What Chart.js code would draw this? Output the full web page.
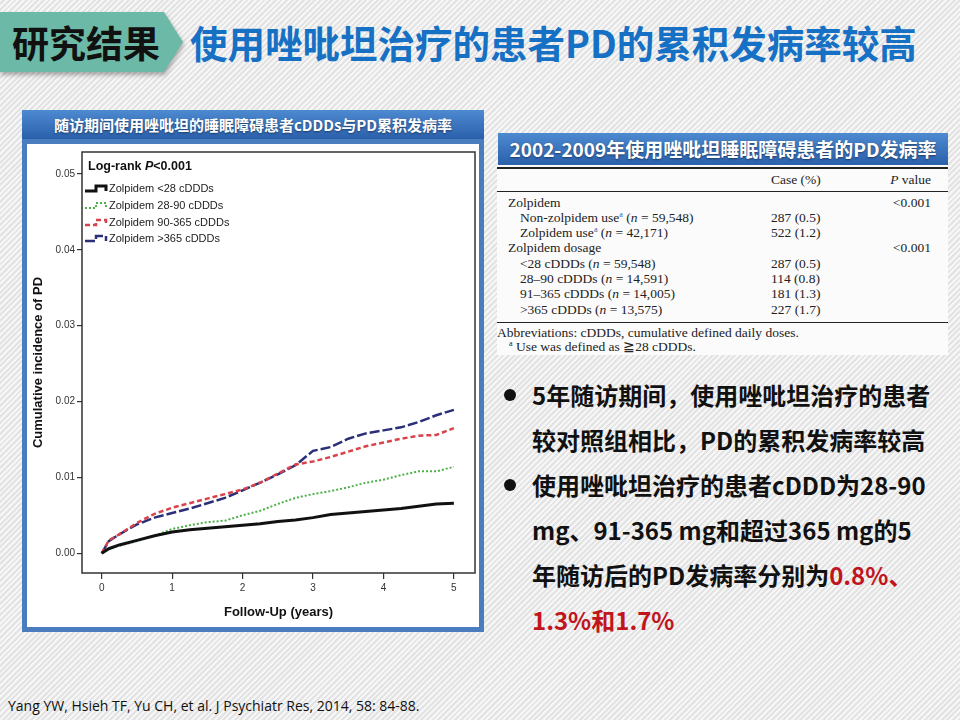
<!DOCTYPE html>
<html>
<head>
<meta charset="utf-8">
<script src="https://cdn.jsdelivr.net/npm/chart.js@4.4.1/dist/chart.umd.min.js"></script>
<style>
  body { margin: 0; }
  #slide {
    position: relative; width: 960px; height: 720px; overflow: hidden;
    background: repeating-linear-gradient(135deg, #f6f6f6 0 2px, #e3e3e3 2px 4px);
    font-family: "Noto Sans CJK SC", "Noto Sans", sans-serif;
  }
  .abs { position: absolute; }
  #tagWrap { left: 0; top: 12px; width: 186px; height: 64px; filter: drop-shadow(1px 3px 2px rgba(0,0,0,0.3)); }
  #tag {
    left: 0; top: 0; width: 183px; height: 60px; background: #6bb9a6;
    clip-path: polygon(0 0, 164px 0, 183px 50%, 164px 100%, 0 100%);
  }
  #tagText { left: 12px; top: 12px; height: 60px; line-height: 60px; font-size: 37px; font-weight: 700; color: #111; }
  #title { left: 190px; top: 12px; height: 60px; line-height: 60px; font-size: 37.5px; font-weight: 700; color: #1670c4; white-space: nowrap; }
  .bar {
    background: linear-gradient(#4d8ad0, #2b60ab); color: #fff; font-weight: 700;
    text-align: center; white-space: nowrap; text-shadow: 0 1px 2px rgba(0,0,0,0.45);
  }
  #leftBar { left: 22px; top: 110px; width: 462px; height: 29px; line-height: 29px; font-size: 15px; }
  #chartBox { left: 22px; top: 139px; width: 452px; height: 483px; border: 5px solid #4a7dbd; background: #fff; }
  #chartBox canvas { display: block; }
  #tableBar { left: 498px; top: 133px; width: 450px; height: 32px; line-height: 32px; font-size: 19px; }
  #tbl { left: 497px; top: 165px; width: 451px; height: 190px; background: #fbfbfb;
         font-family: "Liberation Serif", "DejaVu Serif", serif; font-size: 13.5px; color: #222; }
  #tbl .row { position: absolute; left: 0; width: 451px; height: 16px; line-height: 16px; white-space: nowrap; }
  #tbl .c1 { position: absolute; left: 11px; }
  #tbl .c1.in { left: 23px; }
  #tbl .c2 { position: absolute; left: 274px; }
  #tbl .c3 { position: absolute; right: 17px; }
  #tbl .rule { position: absolute; left: 0; width: 451px; background: #222; }
  #tbl sup { font-size: 8px; line-height: 0; color: #3a5fa8; }
  #bullets { left: 532px; top: 372px; font-size: 24px; font-weight: 700; color: #111; line-height: 45px; white-space: nowrap; }
  .dot { width: 12px; height: 12px; border-radius: 50%; background: #111; }
  .red { color: #c0151d; }
  #ref { left: 8px; top: 696px; font-family: "Open Sans", sans-serif; font-size: 14px; color: #111; white-space: nowrap; }
</style>
</head>
<body>
<div id="slide">
  <div id="tagWrap" class="abs"><div id="tag" class="abs"></div></div>
  <div id="tagText" class="abs">研究结果</div>
  <div id="title" class="abs">使用唑吡坦治疗的患者PD的累积发病率较高</div>

  <div id="leftBar" class="abs bar">随访期间使用唑吡坦的睡眠障碍患者cDDDs与PD累积发病率</div>
  <div id="chartBox" class="abs"><canvas id="kmChart" width="452" height="483"></canvas></div>

  <div id="tableBar" class="abs bar">2002-2009年使用唑吡坦睡眠障碍患者的PD发病率</div>
  <div id="tbl" class="abs">
    <div class="rule" style="top:2px;height:2px"></div>
    <div class="row" style="top:7px"><span class="c2">Case (%)</span><span class="c3"><i>P</i> value</span></div>
    <div class="rule" style="top:26px;height:1px"></div>
    <div class="row" style="top:30px"><span class="c1">Zolpidem</span><span class="c3">&lt;0.001</span></div>
    <div class="row" style="top:45px"><span class="c1 in">Non-zolpidem use<sup>a</sup> (<i>n</i> = 59,548)</span><span class="c2">287 (0.5)</span></div>
    <div class="row" style="top:60px"><span class="c1 in">Zolpidem use<sup>a</sup> (<i>n</i> = 42,171)</span><span class="c2">522 (1.2)</span></div>
    <div class="row" style="top:75px"><span class="c1">Zolpidem dosage</span><span class="c3">&lt;0.001</span></div>
    <div class="row" style="top:91px"><span class="c1 in">&lt;28 cDDDs (<i>n</i> = 59,548)</span><span class="c2">287 (0.5)</span></div>
    <div class="row" style="top:106px"><span class="c1 in">28–90 cDDDs (<i>n</i> = 14,591)</span><span class="c2">114 (0.8)</span></div>
    <div class="row" style="top:121px"><span class="c1 in">91–365 cDDDs (<i>n</i> = 14,005)</span><span class="c2">181 (1.3)</span></div>
    <div class="row" style="top:137px"><span class="c1 in">&gt;365 cDDDs (<i>n</i> = 13,575)</span><span class="c2">227 (1.7)</span></div>
    <div class="rule" style="top:157px;height:1px"></div>
    <div class="row" style="top:160px"><span style="position:absolute;left:0">Abbreviations: cDDDs, cumulative defined daily doses.</span></div>
    <div class="row" style="top:174px"><span style="position:absolute;left:12px"><sup style="color:#222">a</sup> Use was defined as ≧28 cDDDs.</span></div>
  </div>

  <div class="abs dot" style="left:504px;top:389px"></div>
  <div class="abs dot" style="left:504px;top:479px"></div>
  <div id="bullets" class="abs">
    5年随访期间，使用唑吡坦治疗的患者<br>
    较对照组相比，PD的累积发病率较高<br>
    使用唑吡坦治疗的患者cDDD为28-90<br>
    mg、91-365 mg和超过365 mg的5<br>
    年随访后的PD发病率分别为<span class="red">0.8%、</span><br>
    <span class="red">1.3%和1.7%</span>
  </div>

  <div id="ref" class="abs">Yang YW, Hsieh TF, Yu CH, et al. J Psychiatr Res, 2014, 58: 84-88.</div>
</div>

<script>
// follow-up time (years) at which the curves were read
const years = [0, 0.1, 0.25, 0.5, 0.75, 1, 1.25, 1.5, 1.75, 2, 2.25, 2.5, 2.75, 3, 3.25, 3.5, 3.75, 4, 4.25, 4.5, 4.75, 5];

// cumulative incidence of PD per dosage group
const lt28 = [0, 0.0006, 0.0011, 0.0017, 0.0023, 0.0028, 0.0031, 0.0033, 0.0035, 0.0037, 0.0039, 0.0042, 0.0044, 0.0047, 0.0051, 0.0053, 0.0055, 0.0057, 0.0059, 0.0062, 0.0065, 0.0066];
const d28to90 = [0, 0.0006, 0.0010, 0.0016, 0.0023, 0.0032, 0.0037, 0.0041, 0.0043, 0.0050, 0.0056, 0.0065, 0.0073, 0.0078, 0.0082, 0.0087, 0.0093, 0.0097, 0.0103, 0.0108, 0.0108, 0.0114];
const d90to365 = [0, 0.0017, 0.0025, 0.0040, 0.0052, 0.0060, 0.0066, 0.0072, 0.0078, 0.0084, 0.0093, 0.0105, 0.0117, 0.0121, 0.0127, 0.0134, 0.0141, 0.0146, 0.0151, 0.0155, 0.0156, 0.0165];
const gt365 = [0, 0.0016, 0.0025, 0.0038, 0.0047, 0.0053, 0.0059, 0.0066, 0.0073, 0.0083, 0.0093, 0.0104, 0.0116, 0.0135, 0.0140, 0.0151, 0.0158, 0.0162, 0.0166, 0.0173, 0.0182, 0.0189];

const seriesLabels = ['Zolpidem <28 cDDDs', 'Zolpidem 28-90 cDDDs', 'Zolpidem 90-365 cDDDs', 'Zolpidem >365 cDDDs'];
const xTicks = [0, 1, 2, 3, 4, 5];
const yTicks = [0, 0.01, 0.02, 0.03, 0.04, 0.05];

const toPoints = vals => years.map((x, i) => ({ x: x, y: vals[i] }));

// frame around the plot + legend inside it
const framePlugin = {
    id: 'frameLegend',
    afterDatasetsDraw(chart) {
        const { ctx, chartArea } = chart;
        ctx.save();
        ctx.strokeStyle = '#333';
        ctx.lineWidth = 1.5;
        ctx.setLineDash([]);
        ctx.strokeRect(chartArea.left, chartArea.top, chartArea.right - chartArea.left, chartArea.bottom - chartArea.top);

        // log-rank text
        let x = chartArea.left + 6;
        const yTop = chartArea.top + 15;
        ctx.fillStyle = '#111';
        ctx.textBaseline = 'middle';
        ctx.font = 'bold 12.5px "Liberation Sans", Arial, sans-serif';
        ctx.fillText('Log-rank ', x, yTop);
        x += ctx.measureText('Log-rank ').width;
        ctx.font = 'italic bold 12.5px "Liberation Sans", Arial, sans-serif';
        ctx.fillText('P', x, yTop);
        x += ctx.measureText('P').width;
        ctx.font = 'bold 12.5px "Liberation Sans", Arial, sans-serif';
        ctx.fillText('<0.001', x, yTop);

        // legend rows
        const rowY = [45, 62, 79, 95];
        chart.data.datasets.forEach((ds, i) => {
            const y = rowY[i];
            ctx.strokeStyle = ds.borderColor;
            ctx.lineWidth = ds.borderWidth;
            ctx.setLineDash(ds.borderDash || []);
            ctx.beginPath();
            ctx.moveTo(58, y + 2);
            ctx.lineTo(69, y + 2);
            ctx.lineTo(69, y - 3);
            ctx.lineTo(79, y - 3);
            ctx.lineTo(79, y + 2);
            ctx.stroke();
            ctx.setLineDash([]);
            ctx.fillStyle = '#222';
            ctx.font = '11px "Liberation Sans", Arial, sans-serif';
            ctx.fillText(ds.label, 82, y);
        });
        ctx.restore();
    }
};

const tickFont = { family: '"Liberation Sans", Arial, sans-serif', size: 10 };
const titleFont = { family: '"Liberation Sans", Arial, sans-serif', size: 13, weight: 'bold' };

new Chart(document.getElementById('kmChart'), {
    type: 'line',
    data: {
        datasets: [
            { label: seriesLabels[0], data: toPoints(lt28), borderColor: '#111111', borderWidth: 3, borderDash: [] },
            { label: seriesLabels[1], data: toPoints(d28to90), borderColor: '#4caf47', borderWidth: 2, borderDash: [2, 2] },
            { label: seriesLabels[2], data: toPoints(d90to365), borderColor: '#d8434b', borderWidth: 2.5, borderDash: [5, 3] },
            { label: seriesLabels[3], data: toPoints(gt365), borderColor: '#2b2f78', borderWidth: 2.5, borderDash: [10, 3] }
        ]
    },
    options: {
        responsive: false,
        animation: false,
        layout: { padding: { top: 4, right: 4, left: 0, bottom: 0 } },
        elements: { point: { radius: 0 }, line: { tension: 0 } },
        plugins: { legend: { display: false }, tooltip: { enabled: false } },
        scales: {
            x: {
                type: 'linear',
                min: -0.28,
                max: 5.3,
                afterBuildTicks: s => { s.ticks = xTicks.map(v => ({ value: v })); },
                afterFit: s => { s.height = 54; },
                ticks: { color: '#333', font: tickFont, padding: 3, maxRotation: 0 },
                grid: { drawOnChartArea: false, drawTicks: true, tickLength: 6, color: '#333', lineWidth: 1.2 },
                border: { display: false },
                title: { display: true, text: 'Follow-Up (years)', color: '#111', font: titleFont, padding: { top: 0, bottom: 7 } }
            },
            y: {
                min: -0.0026,
                max: 0.0529,
                afterBuildTicks: s => { s.ticks = yTicks.map(v => ({ value: v })); },
                afterFit: s => { s.width = 55; },
                ticks: { color: '#333', font: tickFont, padding: 2, callback: v => v.toFixed(2) },
                grid: { drawOnChartArea: false, drawTicks: true, tickLength: 5, color: '#333', lineWidth: 1.2 },
                border: { display: false },
                title: { display: true, text: 'Cumulative incidence of PD', color: '#111', font: titleFont, padding: { top: 4, bottom: 0 } }
            }
        }
    },
    plugins: [framePlugin]
});
</script>
</body>
</html>
